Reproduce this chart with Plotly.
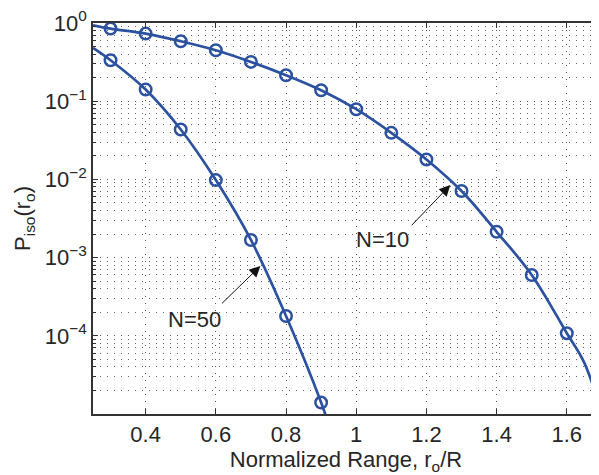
import plotly.graph_objects as go

# ---- data ----
x_n10 = [0.3, 0.4, 0.5, 0.6, 0.7, 0.8, 0.9, 1.0, 1.1, 1.2, 1.3, 1.4, 1.5, 1.6]
p_n10 = [0.848, 0.732, 0.584, 0.448, 0.318, 0.215, 0.138, 0.079, 0.0394, 0.018,
         0.0071, 0.00214, 6.0e-4, 1.08e-4]
x_n50 = [0.3, 0.4, 0.5, 0.6, 0.7, 0.8, 0.9]
p_n50 = [0.334, 0.141, 0.0435, 0.0098, 0.00168, 1.79e-4, 1.40e-5]

# curve ends (line only, no marker)
x_n10_line = [0.25] + x_n10 + [1.65, 1.7]
p_n10_line = [0.935] + p_n10 + [4.5e-5, 1.0e-5]
x_n50_line = [0.25] + x_n50 + [0.93]
p_n50_line = [0.48] + p_n50 + [5.6e-6]

x_ticks = [0.4, 0.6, 0.8, 1.0, 1.2, 1.4, 1.6]
x_ticktext = ["0.4", "0.6", "0.8", "1", "1.2", "1.4", "1.6"]
y_ticks = [1, 1e-1, 1e-2, 1e-3, 1e-4]
y_ticktext = ["10<sup>0</sup>", "10<sup>−1</sup>", "10<sup>−2</sup>",
              "10<sup>−3</sup>", "10<sup>−4</sup>"]

BLUE = "#2c51a0"
TXT = "#262626"
FONT = "Liberation Sans, Arial, Helvetica, sans-serif"
GRID_DASH = "1px,6px"
FS = 22

fig = go.Figure()
for xl, pl, xm, pm in [(x_n10_line, p_n10_line, x_n10, p_n10),
                       (x_n50_line, p_n50_line, x_n50, p_n50)]:
    fig.add_trace(go.Scatter(x=xl, y=pl, mode="lines",
                             line=dict(color=BLUE, width=2.7, shape="spline", smoothing=1.0),
                             showlegend=False, hoverinfo="skip"))
    fig.add_trace(go.Scatter(x=xm, y=pm, mode="markers",
                             marker=dict(symbol="circle-open", size=11.5, color=BLUE,
                                         line=dict(color=BLUE, width=2.5)),
                             showlegend=False))

minor_y = [m * 10.0 ** e for e in range(-5, 0) for m in range(2, 10)]

# page body adds an 8px margin, so the figure is sized/margined to compensate
fig.update_layout(
    width=591, height=467,
    margin=dict(l=85, r=0, t=15, b=61),
    paper_bgcolor="white", plot_bgcolor="white",
    font=dict(family=FONT, size=FS, color=TXT),
    xaxis=dict(
        range=[0.25, 1.6917],
        tickmode="array", tickvals=x_ticks, ticktext=x_ticktext,
        ticks="inside", ticklen=5, tickwidth=1, tickcolor="#333",
        showline=True, linecolor="#333", linewidth=1.5, mirror="ticks",
        showgrid=True, gridcolor="#555", gridwidth=1, griddash=GRID_DASH,
        zeroline=False,
        tickfont=dict(size=FS, color=TXT),
        title=dict(text="Normalized Range, r<sub>o</sub>/R", standoff=2,
                   font=dict(size=FS, color=TXT)),
    ),
    yaxis=dict(
        type="log", range=[-5, 0],
        tickmode="array", tickvals=y_ticks, ticktext=y_ticktext,
        ticks="inside", ticklen=5, tickwidth=1, tickcolor="#333",
        showline=True, linecolor="#333", linewidth=1.5, mirror=False,
        showgrid=True, gridcolor="#555", gridwidth=1, griddash=GRID_DASH,
        zeroline=False, ticklabeloverflow="allow",
        tickfont=dict(size=FS, color=TXT),
        minor=dict(tickmode="array", tickvals=minor_y, ticks="inside", ticklen=3,
                   tickcolor="#333", showgrid=True, gridcolor="#666",
                   griddash=GRID_DASH, gridwidth=1),
        title=dict(text="P<sub>iso</sub>(r<sub>o</sub>)", standoff=8,
                   font=dict(size=FS, color=TXT)),
    ),
)

# arrows
for (tx, ty, ax_, ay_) in [(0.727, -3.107, 0.613, -3.605), (1.268, -2.073, 1.154, -2.605)]:
    fig.add_annotation(x=tx, y=ty, ax=ax_, ay=ay_, xref="x", yref="y", axref="x", ayref="y",
                       text="", showarrow=True, arrowhead=2, arrowsize=2.2, arrowwidth=1,
                       arrowcolor="#111", standoff=0, startstandoff=0)
fig.add_annotation(x=0.539, y=-3.797, xref="x", yref="y", text="N=50", showarrow=False,
                   font=dict(size=FS, color=TXT))
fig.add_annotation(x=1.074, y=-2.763, xref="x", yref="y", text="N=10", showarrow=False,
                   font=dict(size=FS, color=TXT))

fig.write_html("out.html")
